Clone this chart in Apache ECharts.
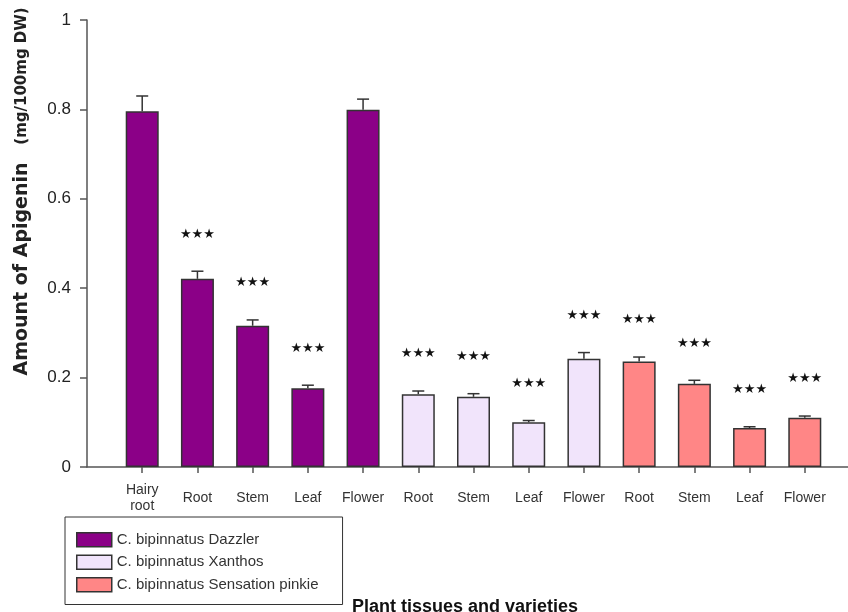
<!DOCTYPE html>
<html>
<head>
<meta charset="utf-8">
<script src="https://cdn.jsdelivr.net/npm/echarts@6/dist/echarts.min.js"></script>
<style>
  html, body { margin: 0; padding: 0; background: #fff; }
  #chart { width: 848px; height: 612px; }
</style>
</head>
<body>
<div id="chart"></div>
<script>
  // tissues along the x axis, grouped by variety
  var categories = ['Hairy\nroot', 'Root', 'Stem', 'Leaf', 'Flower',
                    'Root', 'Stem', 'Leaf', 'Flower',
                    'Root', 'Stem', 'Leaf', 'Flower']
  var varieties = ['C. bipinnatus Dazzler', 'C. bipinnatus Xanthos', 'C. bipinnatus Sensation pinkie']
  var dazzlerValues = [0.796, 0.421, 0.316, 0.176, 0.799]
  var dazzlerErrors = [0.034, 0.017, 0.013, 0.007, 0.024]
  var xanthosValues = [0.163, 0.157, 0.100, 0.242]
  var xanthosErrors = [0.007, 0.007, 0.004, 0.014]
  var pinkieValues = [0.236, 0.186, 0.087, 0.110]
  var pinkieErrors = [0.010, 0.008, 0.003, 0.004]
  var significance = ['', '***', '***', '***', '', '***', '***', '***', '***', '***', '***', '***', '***']
  var yTicks = ['0', '0.2', '0.4', '0.6', '0.8', '1']

  var colors = ['#8b0087', '#f1e4fb', '#ff8686']
  var font = 'Liberation Sans, Arial, sans-serif'

  // axis has an empty slot at each end so the first bar sits one step from the y axis
  var axisData = [''].concat(categories, [''])
  var groups = [dazzlerValues, xanthosValues, pinkieValues]
  var groupErrors = [dazzlerErrors, xanthosErrors, pinkieErrors]

  var barSeries = []
  var errorData = []
  var offset = 1
  groups.forEach(function(vals, g) {
    var data = axisData.map(function() { return '-' })
    vals.forEach(function(v, i) {
      data[offset + i] = v
      errorData.push([offset + i, v, groupErrors[g][i], significance[offset + i - 1]])
    })
    offset += vals.length
    barSeries.push({
      name: varieties[g],
      type: 'bar',
      data: data,
      barWidth: 33,
      barGap: '-100%',
      itemStyle: { color: colors[g], borderColor: '#333', borderWidth: 1.5 }
    })
  })

  function renderError(params, api) {
    var x = api.value(0)
    var base = api.coord([x, api.value(1)])
    var top = api.coord([x, api.value(1) + api.value(2)])
    var cap = 6
    var lineStyle = { stroke: '#333', lineWidth: 1.5 }
    return {
      type: 'group',
      children: [
        { type: 'line', shape: { x1: base[0], y1: base[1], x2: top[0], y2: top[1] }, style: lineStyle },
        { type: 'line', shape: { x1: top[0] - cap, y1: top[1], x2: top[0] + cap, y2: top[1] }, style: lineStyle },
        {
          type: 'text',
          style: {
            text: api.value(3) ? '★★★' : '',
            x: top[0], y: top[1] - 37,
            align: 'center', verticalAlign: 'middle',
            fontSize: 13, fill: '#111', fontFamily: 'DejaVu Sans'
          }
        }
      ]
    }
  }

  var myChart = echarts.init(document.getElementById('chart'))
  myChart.setOption({
    animation: false,
    backgroundColor: '#fff',
    grid: { left: 87, right: -12, top: 20, bottom: 145, outerBoundsMode: 'none', containLabel: false },
    legend: {
      data: varieties,
      orient: 'vertical',
      left: 65,
      top: 517,
      padding: [15, 24, 12, 11],
      icon: 'rect',
      itemWidth: 35,
      itemHeight: 14,
      itemGap: 7,
      borderColor: '#333',
      borderWidth: 1,
      textStyle: { fontFamily: font, fontSize: 15, color: '#333' },
      itemStyle: { borderColor: '#333', borderWidth: 1.5 }
    },
    xAxis: {
      type: 'category',
      data: axisData,
      boundaryGap: false,
      axisLine: { lineStyle: { color: '#555', width: 1.5 } },
      axisTick: {
        length: 6,
        interval: function(index) { return index > 0 && index < axisData.length - 1 },
        lineStyle: { color: '#555', width: 1.5 }
      },
      axisLabel: {
        interval: 0,
        margin: 31,
        verticalAlign: 'middle',
        lineHeight: 16,
        fontFamily: font,
        fontSize: 14,
        color: '#333'
      },
      splitLine: { show: false }
    },
    yAxis: {
      type: 'value',
      min: 0,
      max: 1,
      interval: 0.2,
      axisLine: { show: true, lineStyle: { color: '#555', width: 1.5 } },
      axisTick: { show: true, length: 7, lineStyle: { color: '#555', width: 1.5 } },
      axisLabel: {
        margin: 16,
        fontFamily: font,
        fontSize: 17,
        color: '#222',
        formatter: function(v) { return yTicks[Math.round(v * 5)] }
      },
      splitLine: { show: false }
    },
    graphic: [
      {
        type: 'text', x: 22, y: 269, rotation: Math.PI / 2,
        style: { text: 'Amount of Apigenin', align: 'center', verticalAlign: 'middle',
          fontFamily: 'DejaVu Sans', fontWeight: 'bold', fontSize: 19, fill: '#222' }
      },
      {
        type: 'text', x: 22, y: 76, rotation: Math.PI / 2,
        style: { text: '(mg/100mg DW)', align: 'center', verticalAlign: 'middle',
          fontFamily: 'DejaVu Sans', fontWeight: 'bold', fontSize: 15, fill: '#222' }
      },
      {
        type: 'text', x: 465, y: 607,
        style: { text: 'Plant tissues and varieties', align: 'center', verticalAlign: 'middle',
          fontFamily: font, fontWeight: 'bold', fontSize: 18, fill: '#111' }
      }
    ],
    series: barSeries.concat([{
      type: 'custom',
      renderItem: renderError,
      data: errorData,
      z: 5
    }])
  })
</script>
</body>
</html>
